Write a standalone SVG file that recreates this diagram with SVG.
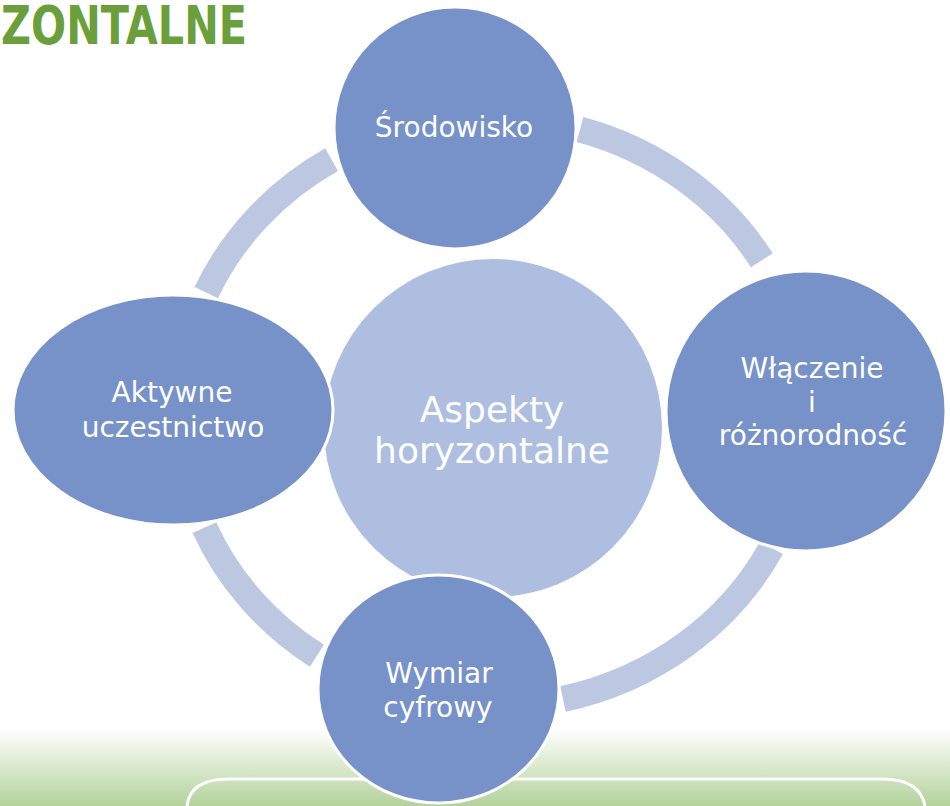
<svg xmlns="http://www.w3.org/2000/svg" width="950" height="806" viewBox="0 0 950 806">
  <defs>
    <linearGradient id="band" x1="0" y1="0" x2="0" y2="1">
      <stop offset="0" stop-color="#ffffff"/>
      <stop offset="1" stop-color="#b3d29b"/>
    </linearGradient>
    <style>
      .ring { fill: none; stroke: #bcc7e2; stroke-width: 26; stroke-linecap: butt; }
      .node { fill: #7791c9; stroke: #ffffff; stroke-width: 3; }
      .hub { fill: #aebee0; }
      .lbl { font-family: "DejaVu Sans", "Liberation Sans", sans-serif; font-size: 28px; fill: #ffffff; text-anchor: middle; }
      .hubl { font-family: "DejaVu Sans", "Liberation Sans", sans-serif; font-size: 36px; fill: #ffffff; text-anchor: middle; }
      .title { font-family: "DejaVu Sans", "Liberation Sans", sans-serif; font-weight: bold; font-size: 53px; fill: #6a9f3b; }
    </style>
  </defs>
  <rect width="950" height="806" fill="#ffffff"/>
  <g id="background">
    <rect x="0" y="729" width="950" height="77" fill="url(#band)"/>
    <path d="M187,806 Q190,779 229,779 L882,779 Q920,779 925,806" fill="none" stroke="#ffffff" stroke-width="3"/>
  </g>
  <text class="title" x="1" y="44" textLength="246" lengthAdjust="spacingAndGlyphs">ZONTALNE</text>
  <g id="connectors">
    <path class="ring" d="M580,129.5 A314,294 0 0 1 761.8,260.3"/>
    <path class="ring" d="M771.5,547.8 A314,294 0 0 1 563,699"/>
    <path class="ring" d="M316.9,655.7 A314,294 0 0 1 204.4,527.6"/>
    <path class="ring" d="M206.3,292.6 A314,294 0 0 1 331.6,159.7"/>
  </g>
  <g id="hub">
    <circle class="hub" cx="493" cy="428" r="169"/>
    <text class="hubl" x="492" y="422">Aspekty</text>
    <text class="hubl" x="492" y="463">horyzontalne</text>
  </g>
  <g id="node-aktywne">
    <ellipse class="node" cx="173" cy="410" rx="160" ry="115"/>
    <text class="lbl" x="172" y="402">Aktywne</text>
    <text class="lbl" x="173" y="437">uczestnictwo</text>
  </g>
  <g id="node-wymiar">
    <ellipse class="node" cx="438.5" cy="689" rx="120.5" ry="114"/>
    <text class="lbl" x="439" y="683">Wymiar</text>
    <text class="lbl" x="438" y="717">cyfrowy</text>
  </g>
  <g id="node-wlaczenie">
    <circle class="node" cx="806" cy="411" r="140"/>
    <text class="lbl" x="812" y="378">Włączenie</text>
    <text class="lbl" x="812" y="412">i</text>
    <text class="lbl" x="813" y="445">różnorodność</text>
  </g>
  <g id="node-srodowisko">
    <circle class="node" cx="455" cy="128" r="121"/>
    <text class="lbl" x="454" y="137">Środowisko</text>
  </g>
</svg>
